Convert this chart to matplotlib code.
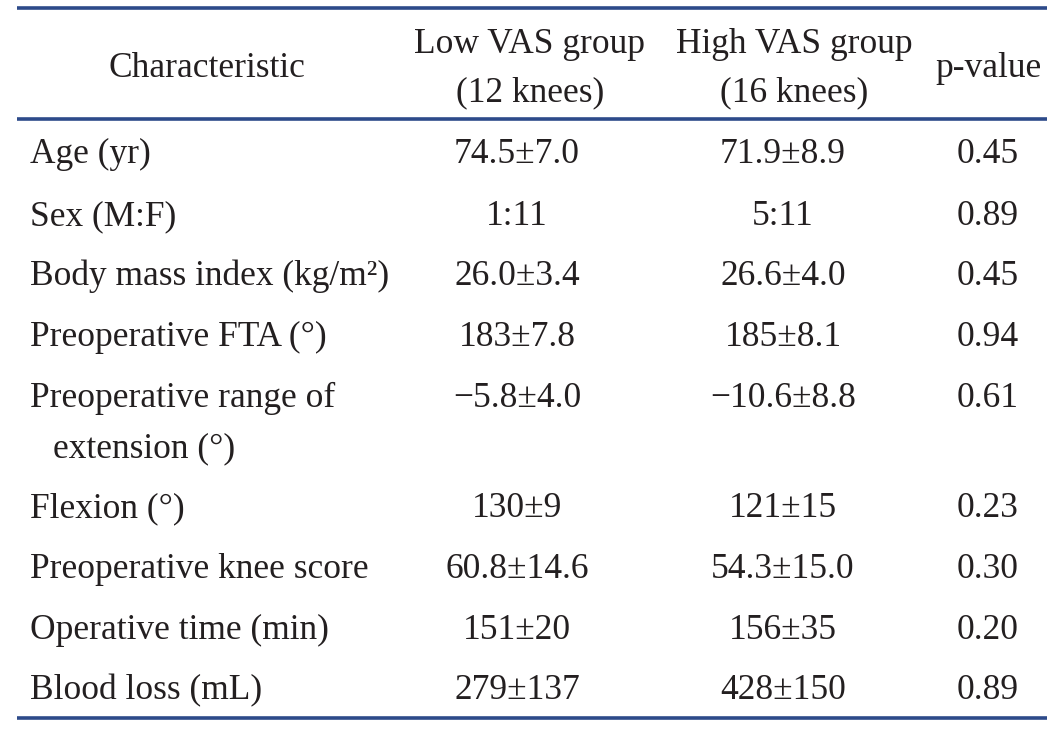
import matplotlib.pyplot as plt

# table content
header_cols = ["Characteristic", "Low VAS group\n(12 knees)", "High VAS group\n(16 knees)", "p-value"]
characteristics = [
    "Age (yr)",
    "Sex (M:F)",
    "Body mass index (kg/m²)",
    "Preoperative FTA (°)",
    "Preoperative range of\nextension (°)",
    "Flexion (°)",
    "Preoperative knee score",
    "Operative time (min)",
    "Blood loss (mL)",
]
low_vas = ["74.5±7.0", "1:11", "26.0±3.4", "183±7.8", "−5.8±4.0", "130±9",
           "60.8±14.6", "151±20", "279±137"]
high_vas = ["71.9±8.9", "5:11", "26.6±4.0", "185±8.1", "−10.6±8.8", "121±15",
            "54.3±15.0", "156±35", "428±150"]
p_values = ["0.45", "0.89", "0.45", "0.94", "0.61", "0.23", "0.30", "0.20", "0.89"]

W, H = 1064, 729
fig = plt.figure(figsize=(W / 100, H / 100), dpi=100)
ax = fig.add_axes([0, 0, 1, 1])
ax.set_xlim(0, W)
ax.set_ylim(H, 0)
ax.axis("off")

font = dict(family="Liberation Serif", fontsize=25.5, color="#231f20")
rule_color = "#2d4a8a"

# horizontal rules
for y in (8, 119, 718):
    ax.plot([17, 1047], [y, y], color=rule_color, lw=2.6, solid_capstyle="butt")

# header
col_x = [207, 530, 794, 988]
ax.text(col_x[0], 77, header_cols[0], ha="center", va="baseline", **font)
for x, txt in zip(col_x[1:3], header_cols[1:3]):
    top, bottom = txt.split("\n")
    ax.text(x, 53, top, ha="center", va="baseline", **font)
    ax.text(x, 101, bottom, ha="center", va="baseline", **font)
ax.text(col_x[3], 77, header_cols[3], ha="center", va="baseline", **font)

# body rows
baselines = [163, 225, 285, 346, 407, 517, 578, 639, 699]
for i, name in enumerate(characteristics):
    y = baselines[i]
    lines = name.split("\n")
    ax.text(30, y, lines[0], ha="left", va="baseline", **font)
    if len(lines) > 1:
        # continuation line is indented
        ax.text(53, y + 50, lines[1], ha="left", va="baseline", **font)
    ax.text(517, y, low_vas[i], ha="center", va="baseline", **font)
    ax.text(783, y, high_vas[i], ha="center", va="baseline", **font)
    ax.text(988, y, p_values[i], ha="center", va="baseline", **font)

fig.savefig("out.png", dpi=100, facecolor="white")
